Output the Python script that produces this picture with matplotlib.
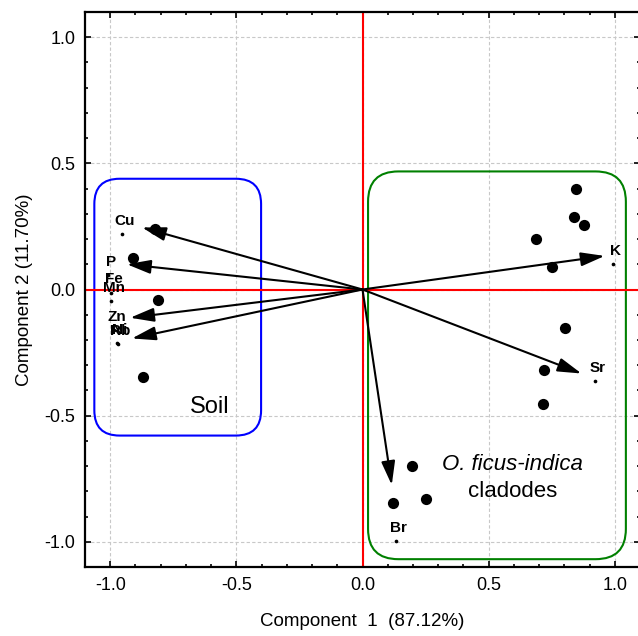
import matplotlib
matplotlib.use("Agg")
import matplotlib.pyplot as plt
from matplotlib.patches import FancyBboxPatch
from matplotlib.ticker import MultipleLocator, FormatStrFormatter

plt.rcParams['font.family'] = ['Liberation Sans', 'DejaVu Sans']

# Observation scores (large dots)
obs_x = [-0.822, -0.908, -0.809, -0.872,
         0.848, 0.839, 0.877, 0.686, 0.752, 0.802, 0.719, 0.716,
         0.197, 0.122, 0.250]
obs_y = [0.239, 0.126, -0.043, -0.348,
         0.398, 0.288, 0.256, 0.200, 0.089, -0.152, -0.320, -0.454,
         -0.698, -0.845, -0.830]

# Variable loadings (small dots + labels)
var_names = ['Cu', 'P', 'Fe', 'Mn', 'Zn', 'Ni', 'Rb', 'K', 'Sr', 'Br']
var_x = [-0.954, -1.008, -0.998, -0.998, -0.984, -0.975, -0.970, 0.993, 0.921, 0.133]
var_y = [0.219, 0.058, -0.012, -0.045, -0.160, -0.214, -0.218, 0.100, -0.364, -0.996]

# Arrow tips
arrow_names = ['Cu', 'P', 'Zn', 'Rb', 'K', 'Sr', 'Br']
arrow_x = [-0.874, -0.934, -0.921, -0.914, 0.960, 0.868, 0.116]
arrow_y = [0.246, 0.100, -0.112, -0.194, 0.133, -0.333, -0.775]

# Group boxes: (x0, y0, x1, y1)
soil_box = (-1.063, -0.579, -0.402, 0.439)
cladode_box = (0.022, -1.069, 1.044, 0.468)

fig = plt.figure(figsize=(6.38, 6.36), dpi=100)
ax = fig.add_axes([85/638, 69/636, 555/638, 555/636])
ax.set_xlim(-1.1, 1.1)
ax.set_ylim(-1.1, 1.1)

ax.xaxis.set_major_locator(MultipleLocator(0.5))
ax.xaxis.set_minor_locator(MultipleLocator(0.1))
ax.yaxis.set_major_locator(MultipleLocator(0.5))
ax.yaxis.set_minor_locator(MultipleLocator(0.1))
ax.xaxis.set_major_formatter(FormatStrFormatter('%.1f'))
ax.yaxis.set_major_formatter(FormatStrFormatter('%.1f'))
ax.tick_params(which='both', direction='in', top=True, right=True, width=1.2, labelsize=13)
ax.tick_params(which='major', length=4, pad=7)
ax.tick_params(which='minor', length=2.5)
for s in ax.spines.values():
    s.set_linewidth(1.6)

ax.grid(True, which='major', color='#c8c8c8', linestyle=(0, (3, 2)), linewidth=0.8)
ax.set_axisbelow(True)

# Boxes
for (x0, y0, x1, y1), col, rs in [(soil_box, '#0000ff', 0.1), (cladode_box, '#008000', 0.12)]:
    p = FancyBboxPatch((x0, y0), x1 - x0, y1 - y0,
                       boxstyle=f"round,pad=0,rounding_size={rs}",
                       fill=False, edgecolor=col, linewidth=1.5, zorder=2)
    ax.add_patch(p)

ax.axhline(0, color='red', lw=1.5, zorder=2.5)
ax.axvline(0, color='red', lw=1.5, zorder=2.5)

# Arrows
for nx, ny in zip(arrow_x, arrow_y):
    ax.annotate('', xy=(nx, ny), xytext=(0, 0),
                arrowprops=dict(arrowstyle='-|>,head_length=1.45,head_width=0.42',
                                color='black', lw=1.5, shrinkA=0, shrinkB=0),
                zorder=4)

# Points
ax.scatter(obs_x, obs_y, s=65, color='black', zorder=5, linewidths=0)
ax.scatter(var_x, var_y, s=7, color='black', zorder=5, linewidths=0)

for name, vx, vy in zip(var_names, var_x, var_y):
    ax.annotate(name, (vx, vy), xytext=(2, 6.5), textcoords='offset points',
                ha='center', va='baseline', fontsize=11, fontweight='bold', zorder=6)

ax.text(-0.604, -0.465, 'Soil', fontsize=17, ha='center', va='center', zorder=6)
ax.text(0.596, -0.692, 'O. ficus-indica', fontsize=16, style='italic',
        ha='center', va='center', zorder=6)
ax.text(0.596, -0.800, 'cladodes', fontsize=16, ha='center', va='center', zorder=6)

ax.set_xlabel('Component  1  (87.12%)', fontsize=13.5, labelpad=14)
ax.set_ylabel('Component 2 (11.70%)', fontsize=13.5, labelpad=8)

fig.savefig('out.png', dpi=100)
